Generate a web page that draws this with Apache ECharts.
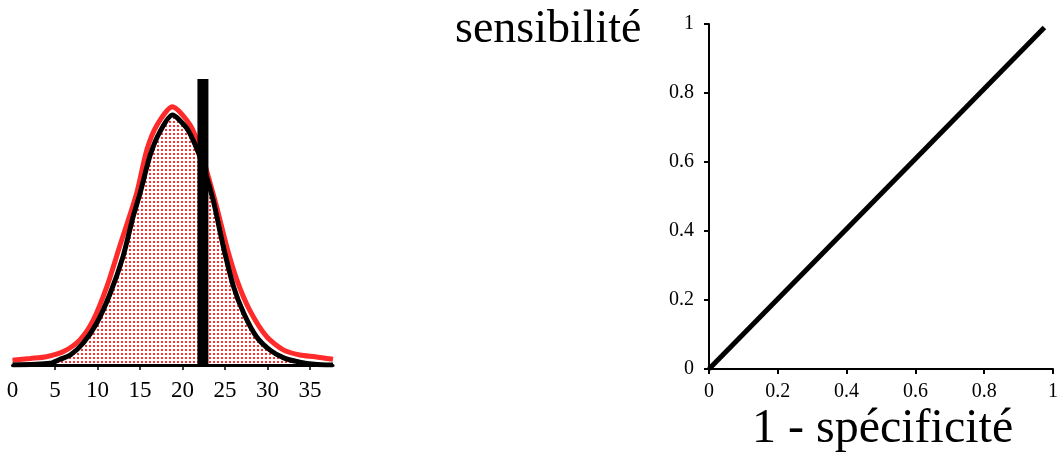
<!DOCTYPE html>
<html>
<head>
<meta charset="utf-8">
<script src="https://cdn.jsdelivr.net/npm/echarts@6/dist/echarts.min.js"></script>
<style>
html,body{margin:0;padding:0;background:#fff;}
#chart{width:1063px;height:459px;}
</style>
</head>
<body>
<div id="chart"></div>
<script>
// ---- data ----
const distTickLabels = [0, 5, 10, 15, 20, 25, 30, 35];
const distTicks = [5, 10, 15, 20, 25, 30, 35];
const redX = [0, 2.1, 4.0, 6.0, 7.9, 9.5, 11.1, 12.6, 14.6, 15.8, 17.0, 18.8, 20.9, 22.1, 23.8, 25.2, 26.4, 27.9, 29.9, 31.9, 33.8, 35.6, 37.7];
const redY = [0.017, 0.023, 0.029, 0.047, 0.087, 0.157, 0.274, 0.414, 0.600, 0.752, 0.839, 0.903, 0.839, 0.752, 0.577, 0.414, 0.297, 0.192, 0.099, 0.052, 0.035, 0.029, 0.020];
const blackX = [0, 4.4, 5.6, 6.8, 8.3, 9.9, 11.5, 13.0, 14.2, 15.0, 16.2, 17.35, 18.8, 20.5, 21.5, 22.5, 23.6, 24.8, 26.0, 27.2, 28.7, 30.3, 31.9, 33.8, 35.5, 37.7];
const blackY = [0, 0.006, 0.020, 0.035, 0.076, 0.146, 0.251, 0.379, 0.520, 0.600, 0.734, 0.816, 0.874, 0.828, 0.769, 0.690, 0.577, 0.414, 0.274, 0.181, 0.099, 0.052, 0.025, 0.010, 0.003, 0];
const thresholdX = [22.4, 22.4];
const thresholdY = [0, 1];
const rocTicks = [0, 0.2, 0.4, 0.6, 0.8, 1];
const rocX = [0, 0.975];
const rocY = [0, 0.99];
const yTitle = 'sensibilité';
const xTitle = '1 - spécificité';

function pairs(xs, ys) { return xs.map((x, i) => [x, ys[i]]); }

// dotted pattern for the filled area
const pat = document.createElement('canvas');
pat.width = 4; pat.height = 4;
const pctx = pat.getContext('2d');
pctx.fillStyle = '#ff3030';
pctx.fillRect(1, 1, 2, 2);

const serif = 'Liberation Serif';
const chart = echarts.init(document.getElementById('chart'), null, {renderer: 'canvas'});
chart.setOption({
  animation: false,
  backgroundColor: '#fff',
  title: [
    {text: yTitle, left: 455, top: 7, padding: 0,
     textStyle: {fontFamily: serif, fontSize: 46, fontWeight: 'normal', color: '#000'}},
    {text: xTitle, left: 752, top: 405, padding: 0,
     textStyle: {fontFamily: serif, fontSize: 48, fontWeight: 'normal', color: '#000'}}
  ],
  grid: [
    {left: 12.5, right: 730, top: 79, bottom: 94},
    {left: 709, right: 10, top: 24, bottom: 90}
  ],
  xAxis: [
    {type: 'value', gridIndex: 0, min: 0, max: 37.7, interval: 5,
     splitLine: {show: false},
     axisLine: {show: true, lineStyle: {color: '#000', width: 3}},
     axisTick: {show: true, customValues: distTicks, length: 5, lineStyle: {color: '#000', width: 1.5}},
     axisLabel: {customValues: distTickLabels, margin: 14, fontFamily: serif, fontSize: 23, color: '#000'}},
    {type: 'value', gridIndex: 1, min: 0, max: 1, interval: 0.2,
     splitLine: {show: false},
     axisLine: {show: true, lineStyle: {color: '#000', width: 2}},
     axisTick: {show: true, customValues: rocTicks, length: 5, lineStyle: {color: '#000', width: 2}},
     axisLabel: {customValues: rocTicks, margin: 13, fontFamily: serif, fontSize: 20, color: '#000'}}
  ],
  yAxis: [
    {type: 'value', gridIndex: 0, min: 0, max: 1, show: false, splitLine: {show: false}},
    {type: 'value', gridIndex: 1, min: 0, max: 1, interval: 0.2,
     splitLine: {show: false},
     axisLine: {show: true, lineStyle: {color: '#000', width: 2}},
     axisTick: {show: true, customValues: rocTicks, length: 5, lineStyle: {color: '#000', width: 2}},
     axisLabel: {customValues: rocTicks, margin: 15, fontFamily: serif, fontSize: 20, color: '#000'}}
  ],
  series: [
    {type: 'line', xAxisIndex: 0, yAxisIndex: 0, data: pairs(redX, redY), smooth: 0.25,
     symbol: 'none', lineStyle: {color: '#ff2a2a', width: 5}, z: 2},
    {type: 'line', xAxisIndex: 0, yAxisIndex: 0, data: pairs(blackX, blackY), smooth: 0.25,
     symbol: 'none', lineStyle: {color: '#000', width: 5},
     areaStyle: {color: {image: pat, repeat: 'repeat'}, opacity: 1}, z: 3},
    {type: 'line', xAxisIndex: 0, yAxisIndex: 0, data: pairs(thresholdX, thresholdY),
     symbol: 'none', lineStyle: {color: '#000', width: 11, cap: 'butt'}, z: 4},
    {type: 'line', xAxisIndex: 1, yAxisIndex: 1, data: pairs(rocX, rocY),
     symbol: 'none', lineStyle: {color: '#000', width: 5}, z: 3}
  ]
});
</script>
</body>
</html>
